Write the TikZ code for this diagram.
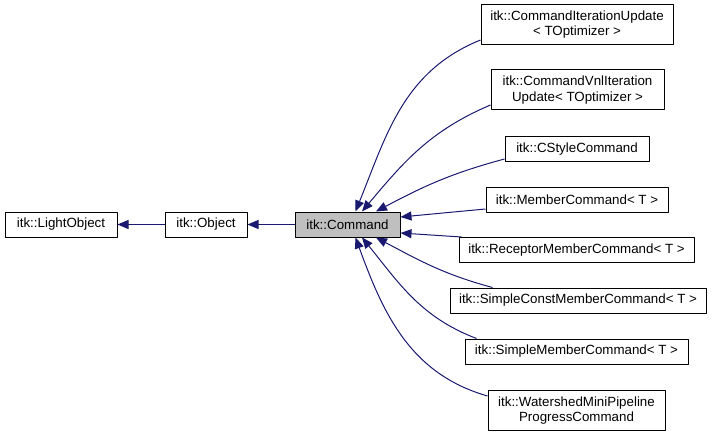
\documentclass[tikz,border=0pt]{standalone}
\usepackage{fontspec}
\setmainfont{Liberation Sans}
\usepackage{xcolor}
\usetikzlibrary{arrows.meta,calc}
\definecolor{edgeblue}{HTML}{191970}
\tikzset{
  class box/.style={draw,line width=.75pt,fill=white,inner sep=0pt,
    minimum width=#1*0.75pt,minimum height=18.75pt,align=center,
    font=\fontsize{10}{11.5}\selectfont},
  current class/.style={class box=#1,fill=black!25},
  tall/.style={minimum height=30pt},
  derive edge/.style={draw=edgeblue,line width=.75pt,
    -{Triangle[length=8.25pt,width=6.75pt]}}
}

\begin{document}
\begin{tikzpicture}[x=0.75pt,y=0.75pt,line join=round]
  \useasboundingbox (0,0) rectangle (712,436);

  % base chain
  \node[class box=112]   (light) at ( 61.0,211.5) {itk::LightObject};
  \node[class box=82]    (obj)   at (206.0,211.5) {itk::Object};
  \node[current class=105] (cmd) at (347.5,211.5) {itk::Command};

  % derived commands
  \node[class box=192,tall] (ciu)          at (577.0,411.5) {itk::CommandIterationUpdate\\< TOptimizer >};
  \node[class box=173,tall] (cvnl)         at (577.5,346.0) {itk::CommandVnlIteration\\Update< TOptimizer >};
  \node[class box=144]      (cstyle)       at (577.0,287.0) {itk::CStyleCommand};
  \node[class box=182]      (member)       at (577.0,236.5) {itk::MemberCommand< T >};
  \node[class box=235]      (receptor)     at (576.5,186.0) {itk::ReceptorMemberCommand< T >};
  \node[class box=256]      (simpleconst)  at (578.0,135.5) {itk::SimpleConstMemberCommand< T >};
  \node[class box=223]      (simplemember) at (576.5, 84.5) {itk::SimpleMemberCommand< T >};
  \node[class box=177,tall] (watershed)    at (576.5, 25.5) {itk::WatershedMiniPipeline\\ProgressCommand};

  \draw[derive edge] (obj) -- (light);
  \draw[derive edge] (cmd) -- (obj);

  \draw[derive edge] ($(ciu.west)+(0,-15.5)$) to[out=202,in=68] ($(cmd.north)+(8,0)$);
  \draw[derive edge] ($(cvnl.west)+(0,-15)$) to[out=203,in=50] ($(cmd.north)+(14.5,0)$);
  \draw[derive edge] ($(cstyle.west)+(0,-10)$) to[out=195,in=28] ($(cmd.north)+(28.5,0)$);
  \draw[derive edge] ($(member.west)+(0,-9.5)$) -- ($(cmd.east)+(0,7.5)$);
  \draw[derive edge] ($(receptor.north west)+(3,0)$) -- ($(cmd.east)+(0,-8.5)$);
  \draw[derive edge] ($(simpleconst.north west)+(43,0)$) to[out=165,in=-28] ($(cmd.south)+(28.5,0)$);
  \draw[derive edge] ($(simplemember.north west)+(12,0)$) to[out=159,in=-51] ($(cmd.south)+(14.5,0)$);
  \draw[derive edge] ($(watershed.west)+(0,14.5)$) to[out=164,in=-70] ($(cmd.south)+(8,0)$);
\end{tikzpicture}
\end{document}
